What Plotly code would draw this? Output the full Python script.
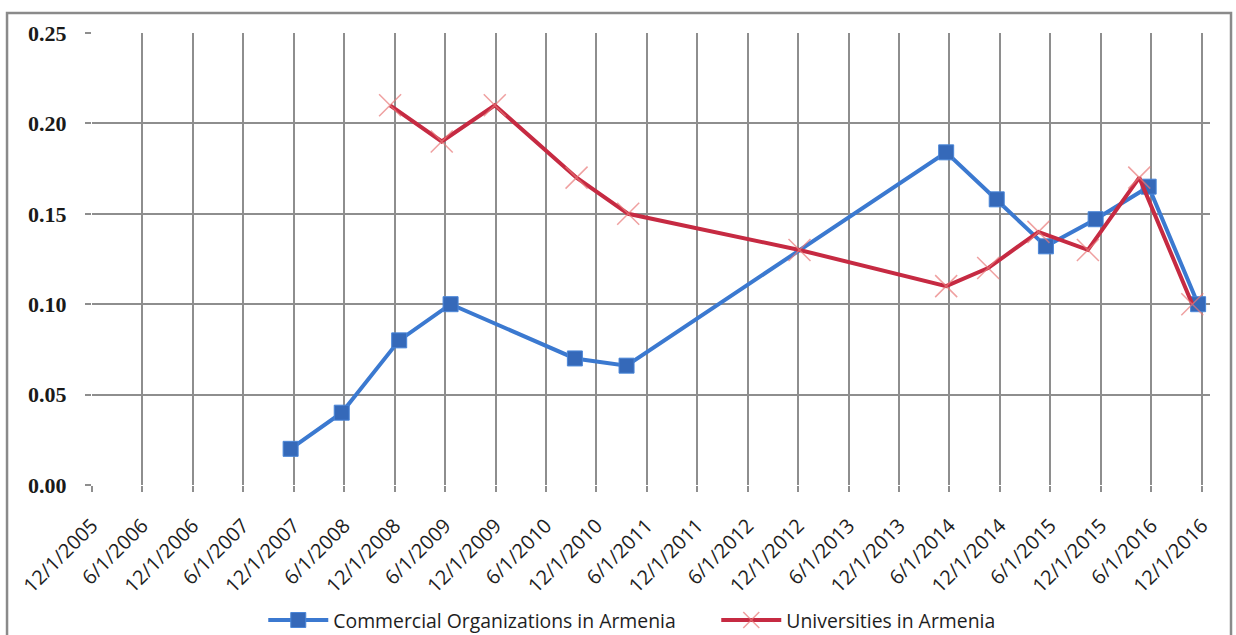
import plotly.graph_objects as go

# Half-year tick positions and their labels
tick_dates = [
    "2005-12-01", "2006-06-01", "2006-12-01", "2007-06-01", "2007-12-01",
    "2008-06-01", "2008-12-01", "2009-06-01", "2009-12-01", "2010-06-01",
    "2010-12-01", "2011-06-01", "2011-12-01", "2012-06-01", "2012-12-01",
    "2013-06-01", "2013-12-01", "2014-06-01", "2014-12-01", "2015-06-01",
    "2015-12-01", "2016-06-01", "2016-12-01",
]
tick_labels = [
    "12/1/2005", "6/1/2006", "12/1/2006", "6/1/2007", "12/1/2007",
    "6/1/2008", "12/1/2008", "6/1/2009", "12/1/2009", "6/1/2010",
    "12/1/2010", "6/1/2011", "12/1/2011", "6/1/2012", "12/1/2012",
    "6/1/2013", "12/1/2013", "6/1/2014", "12/1/2014", "6/1/2015",
    "12/1/2015", "6/1/2016", "12/1/2016",
]

# Commercial Organizations in Armenia
commercial_dates = [
    "2007-11-20", "2008-05-23", "2008-12-17", "2009-06-21", "2010-09-14",
    "2011-03-20", "2014-05-20", "2014-11-19", "2015-05-16", "2015-11-12",
    "2016-05-22", "2016-11-17",
]
commercial_values = [
    0.020, 0.040, 0.080, 0.100, 0.070,
    0.066, 0.184, 0.158, 0.132, 0.147,
    0.165, 0.100,
]

# Universities in Armenia
university_dates = [
    "2008-11-14", "2009-05-20", "2009-11-28", "2010-09-20", "2011-03-26",
    "2012-12-05", "2014-05-20", "2014-10-19", "2015-04-19", "2015-10-15",
    "2016-04-18", "2016-10-27",
]
university_values = [
    0.210, 0.190, 0.210, 0.170, 0.150,
    0.130, 0.110, 0.120, 0.140, 0.130,
    0.170, 0.100,
]

series_names = ["Commercial Organizations in Armenia", "Universities in Armenia"]

fig = go.Figure()

fig.add_trace(go.Scatter(
    x=commercial_dates, y=commercial_values, name=series_names[0],
    mode="lines+markers",
    line=dict(color="#3B79D0", width=4),
    marker=dict(symbol="square", size=15, color="#3569B9",
                line=dict(color="#4A86D8", width=1)),
))

fig.add_trace(go.Scatter(
    x=university_dates, y=university_values, name=series_names[1],
    mode="lines+markers",
    line=dict(color="#C62A42", width=4),
    marker=dict(symbol="x-thin-open", size=22, color="rgba(232,120,120,0.7)",
                line=dict(color="rgba(232,120,120,0.7)", width=1.5)),
))

grid = "#8E8E8E"

fig.update_layout(
    width=1236, height=635,
    margin=dict(l=92, r=26, t=33, b=150, autoexpand=False),
    paper_bgcolor="white", plot_bgcolor="white",
    showlegend=True,
    legend=dict(
        orientation="h", xref="container", yref="container",
        x=0.213, y=0.023, xanchor="left", yanchor="middle",
        font=dict(family="Open Sans", size=19.4, color="#1E1E1E"),
        itemwidth=60, entrywidth=378, entrywidthmode="pixels",
        tracegroupgap=0, bgcolor="rgba(0,0,0,0)",
    ),
    xaxis=dict(
        type="date",
        range=["2005-12-01", "2016-12-30"],
        tickmode="array", tickvals=tick_dates, ticktext=tick_labels,
        tickangle=-45,
        tickfont=dict(family="Open Sans", size=20, color="#1E1E1E"),
        showgrid=True, gridcolor=grid, gridwidth=1.5,
        ticks="outside", ticklen=6, tickcolor=grid, tickwidth=1.5,
        ticklabelstandoff=14, automargin=False,
        showline=False, zeroline=False,
    ),
    yaxis=dict(
        range=[0, 0.25],
        tickmode="array",
        tickvals=[0, 0.05, 0.10, 0.15, 0.20, 0.25],
        ticktext=["0.00", "0.05", "0.10", "0.15", "0.20", "0.25"],
        tickfont=dict(family="Liberation Serif", size=22, color="#1A1A1A",
                      weight="bold"),
        showgrid=True, gridcolor=grid, gridwidth=1.5,
        ticks="outside", ticklen=6, tickcolor=grid, tickwidth=1.5,
        ticklabelstandoff=14, automargin=False,
        showline=False, zeroline=False,
    ),
    shapes=[
        dict(type="rect", xref="paper", yref="paper",
             x0=-0.076, x1=1.0188, y0=-0.40, y1=1.0442,
             line=dict(color="#8A8A8A", width=2.5), layer="below"),
    ],
)

fig.write_html("out.html")
